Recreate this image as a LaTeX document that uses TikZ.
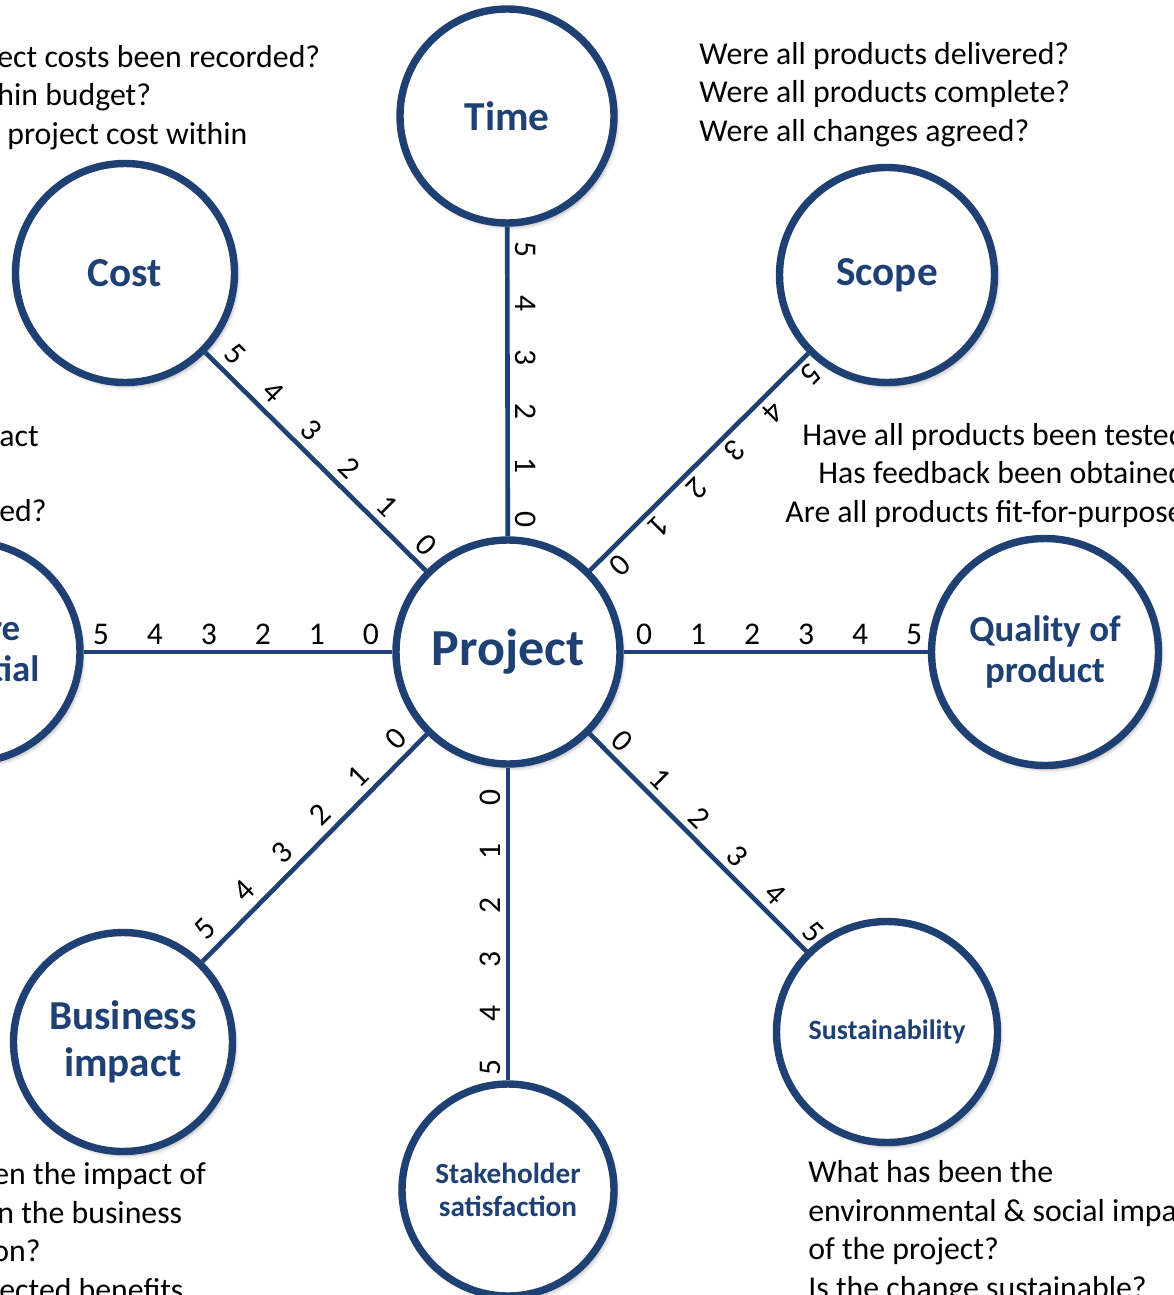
\documentclass[tikz,border=0pt]{standalone}
\usepackage{fontspec}
\setmainfont{Carlito}
\usetikzlibrary{shadows.blur}

\definecolor{ringblue}{RGB}{31,64,114}

\tikzset{
  ring/.style={circle, draw=ringblue, line width=3.7pt, fill=white, inner sep=0pt,
    minimum size=#1, align=center, text=ringblue,
    blur shadow={shadow xshift=1.5pt, shadow yshift=-2pt, shadow blur steps=6, shadow opacity=30}},
  spoke/.style={draw=ringblue, line width=2.3pt},
  tick/.style={font=\fontsize{15.8}{18}\selectfont, inner sep=0pt},
  % base anchor sits on the last line of a block
  note/.style={font=\fontsize{15.9}{19.25}\selectfont, align=left, inner sep=0pt, anchor=base west},
}

\begin{document}
\begin{tikzpicture}[x=0.5pt,y=0.5pt]
\useasboundingbox (0,0) rectangle (1173,-1295);
\clip (0,0) rectangle (1173,-1295);

% questions around the wheel
\node[note] (costq) at (-3,-144) {ect costs been recorded?\\hin budget?\\\hspace*{5pt}project cost within};
\node[note] (impactq) at (-1,-446) {act};
\node[note] (achievedq) at (-1,-521) {ed?};
\node[note] (scopeq) at (699,-141) {Were all products delivered?\\Were all products complete?\\Were all changes agreed?};
\node[note] (qualq) at (785,-522) {\hspace*{8.5pt}Have all products been tested?\\\hspace*{16.5pt}Has feedback been obtained?\\Are all products fit-for-purpose?};
\node[note] (businessq) at (-8,-1300) {\hspace*{0.5pt}en the impact of\\\hspace*{2.5pt}n the business\\on?\\\hspace*{3.5pt}ected benefits};
\node[note] (sustq) at (808,-1298) {What has been the\\environmental \& social impact\\of the project?\\Is the change sustainable?};

% the wheel
\node[ring=112pt, font=\bfseries\fontsize{26}{30}\selectfont] (project) at (508,-652) {Project};
\node[ring=107pt, font=\bfseries\fontsize{20.6}{23}\selectfont] (time) at (507,-116) {Time};
\node[ring=109.5pt, font=\bfseries\fontsize{20.6}{23}\selectfont] (cost) at (125,-273) {Cost};
\node[ring=107.5pt, font=\bfseries\fontsize{20.6}{23}\selectfont] (scope) at (887,-275) {Scope};
\node[ring=113.5pt, font=\bfseries\fontsize{18.4}{20.5}\selectfont] (quality) at (1045,-652) {Quality of\\product};
\node[ring=110.5pt, font=\bfseries\fontsize{14}{16}\selectfont] (sustain) at (887,-1032) {Sustainability};
\node[ring=106pt, font=\bfseries\fontsize{14.6}{16.5}\selectfont] (stake) at (508,-1190) {Stakeholder\\satisfaction};
\node[ring=109.5pt, font=\bfseries\fontsize{20.6}{23.5}\selectfont] (business) at (123,-1042) {Business\\impact};
\node[ring=110pt, font=\bfseries\fontsize{18.4}{20.5}\selectfont] (future) at (-30,-652) {Future\\potential};

\foreach \n in {time,cost,scope,quality,sustain,stake,business,future}
  \draw[spoke] (project) -- (\n);

% scores 0..5 along each spoke
\foreach \a/\r/\s in {0/0/136, 180/0/137, 90/-90/132, -90/90/145,
                      135/-45/134, 45/-135/141, -45/-45/144, 225/45/140}
  \foreach \k in {0,...,5} {
    \pgfmathsetmacro\d{\s+54*\k}
    \path (project.center) ++(\a:\d) ++(\r+90:18) node[tick, rotate=\r] (t\a\k) {\k};
  }
\end{tikzpicture}
\end{document}
